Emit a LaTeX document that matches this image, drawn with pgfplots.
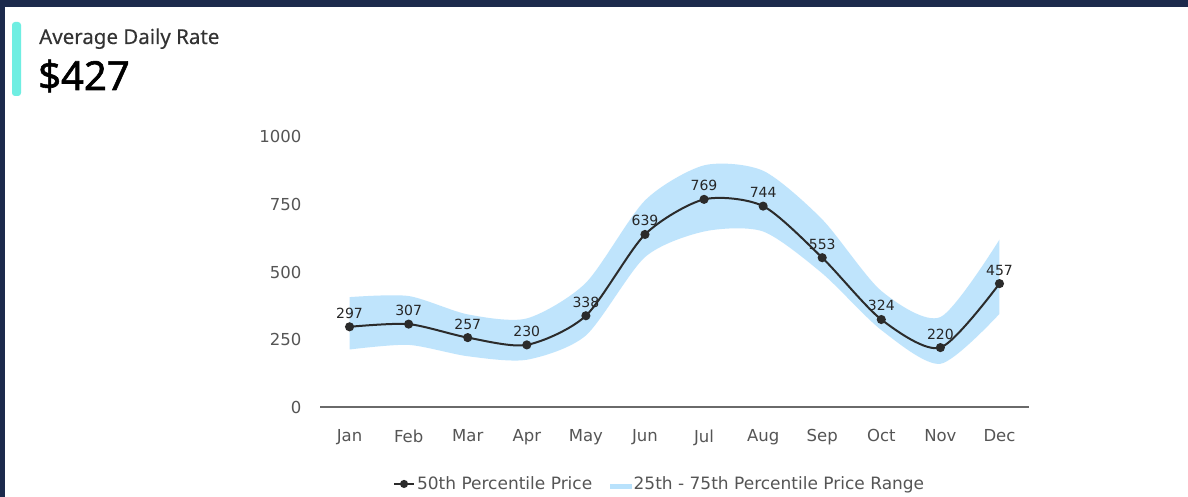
\documentclass[border=0pt]{standalone}
\usepackage{fontspec}
\setmainfont{DejaVu Sans}
\newfontfamily\titlefont[FakeBold=0.3]{Noto Sans}
\newfontfamily\titlebold[FakeBold=1.4]{Noto Sans}
\usepackage{pgfplots}
\pgfplotsset{compat=1.18}
\usepgfplotslibrary{fillbetween}
\definecolor{navy}{HTML}{1C2A4C}
\definecolor{accent}{HTML}{6FEEE2}
\definecolor{band}{HTML}{B9E2FC}
\definecolor{linec}{HTML}{2B2B2B}
\definecolor{ticktext}{HTML}{555555}
\definecolor{gridc}{HTML}{E4E4E4}
\definecolor{axisc}{HTML}{6A6A6A}
\begin{document}
\begin{tikzpicture}
\fill[navy] (0pt,0pt) rectangle (1188pt,497pt);
\fill[white] (5pt,0pt) rectangle (1188pt,490pt);
\fill[accent, rounded corners=3pt] (12pt,401pt) rectangle (21pt,475pt);
\node[anchor=base west, inner sep=0, text=black!80] at (39pt,453pt) {\titlefont\fontsize{20.5}{24}\selectfont Average Daily Rate};
\node[anchor=base west, inner sep=0, text=black] at (38pt,407pt) {\titlebold\fontsize{40}{46}\selectfont \$427};
\begin{axis}[
  at={(320pt,90pt)}, anchor=south west,
  scale only axis, width=709pt, height=270pt,
  xmin=-0.5, xmax=11.5, ymin=0, ymax=1000,
  axis line style={draw=none},
  major tick length=0pt,
  ytick={0,250,500,750,1000},
  ymajorgrids, grid style={gridc, line width=1pt},
  xtick={0,...,11},
  xticklabels={Jan,Feb,Mar,Apr,May,Jun,Jul,Aug,Sep,Oct,Nov,Dec},
  yticklabel style={font=\fontsize{16.5}{19}\selectfont, text=ticktext, xshift=-15pt},
  xticklabel style={font=\fontsize{16.5}{19}\selectfont, text=ticktext, yshift=-19pt},
  /pgf/number format/assume math mode=true,
  /pgf/number format/1000 sep={},
  clip=false,
  legend style={at={(0.479,-0.285)}, anchor=center, draw=none, fill=none,
    legend columns=2, font=\fontsize{17}{20}\selectfont, text=ticktext,
    /tikz/every even column/.append style={column sep=16pt},
    legend cell align=left},
]
\addplot[name path=upper, draw=none, smooth, tension=0.45, forget plot] coordinates {
(0,407) (1,411) (2,343) (3,328) (4,460) (5,765) (6,895) (7,875) (8,695) (9,430) (10,333) (11,620)};
\addplot[name path=lower, draw=none, smooth, tension=0.45, forget plot] coordinates {
(0,213) (1,230) (2,188) (3,175) (4,265) (5,555) (6,650) (7,650) (8,495) (9,285) (10,160) (11,345)};
\addplot[band, draw=none, fill opacity=0.9, forget plot] fill between[of=upper and lower, on layer=main];
\addplot[axisc, line width=1.5pt, forget plot] coordinates {(-0.5,0) (11.5,0)};
\addplot[linec, line width=2pt, smooth, tension=0.45, mark=*, mark size=3.5pt, mark options={fill=linec, draw=linec},
  nodes near coords,
  every node near coord/.append style={font=\fontsize{14}{16}\selectfont, text=black!85, yshift=4pt},
  legend image code/.code={\draw[linec, line width=2pt] (0pt,0pt) -- (20pt,0pt); \fill[linec] (10pt,0pt) circle (3pt);}]
coordinates {
(0,297) (1,307) (2,257) (3,230) (4,338) (5,639) (6,769) (7,744) (8,553) (9,324) (10,220) (11,457)};
\addlegendentry{50th Percentile Price}
\addlegendimage{legend image code/.code={\fill[band] (0pt,-4pt) rectangle (21pt,0pt);}}
\addlegendentry{25th - 75th Percentile Price Range}
\end{axis}
\end{tikzpicture}
\end{document}
